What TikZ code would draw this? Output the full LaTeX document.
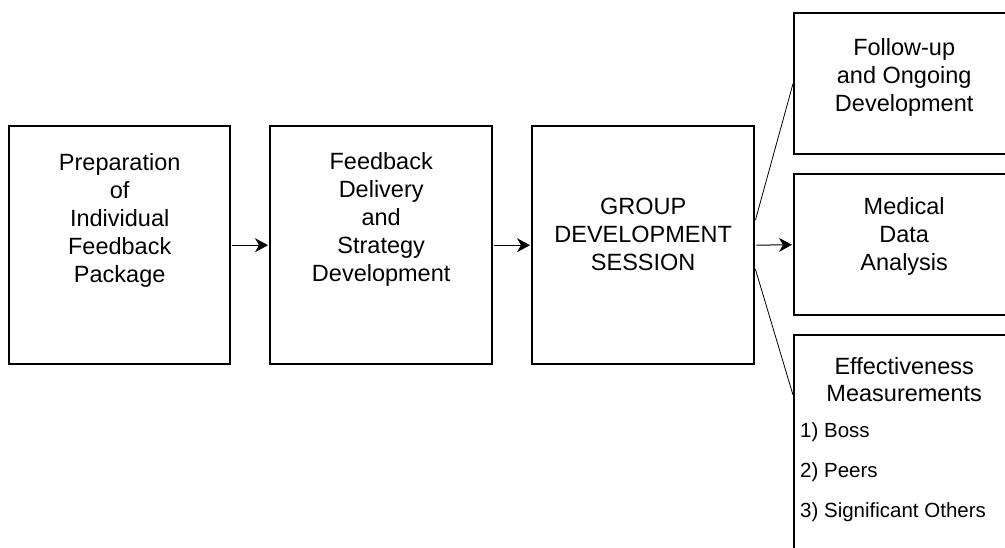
\documentclass[tikz,border=0pt]{standalone}
\usepackage{fontspec}
\setmainfont{Liberation Sans}
\usetikzlibrary{arrows.meta,calc}
\begin{document}
\begin{tikzpicture}[x=1pt,y=-1pt,
  box/.style={draw, line width=2.4pt, inner sep=0pt, anchor=north west},
  lbl/.style={align=center, font=\fontsize{23.5}{28}\selectfont, inner sep=0pt, anchor=north},
  lst/.style={align=left, font=\fontsize{20.5}{40}\selectfont, inner sep=0pt, anchor=north west},
  conn/.style={line width=1pt, shorten <=1pt, shorten >=1pt, -{Stealth[length=13pt,width=14pt,inset=4pt]}},
  fan/.style={line width=0.8pt}]
\useasboundingbox (0,0) rectangle (1005,548);
\clip (0,0) rectangle (1005,548);
% boxes
\node[box, minimum width=221pt, minimum height=238pt] (b1) at (8,125) {};
\node[box, minimum width=222pt, minimum height=238pt] (b2) at (269,125) {};
\node[box, minimum width=222pt, minimum height=238pt] (b3) at (531,125) {};
\node[box, minimum width=220pt, minimum height=141pt] (bA) at (793,12) {};
\node[box, minimum width=220pt, minimum height=141pt] (bB) at (793,173) {};
\node[box, minimum width=220pt, minimum height=250pt] (bC) at (793,334) {};
% labels
\node[lbl] (t1) at ($(b1.north)+(0,28)$) {Preparation\\of\\Individual\\Feedback\\Package};
\node[lbl] (t2) at ($(b2.north)+(0,27)$) {Feedback\\Delivery\\and\\Strategy\\Development};
\node[lbl] (t3) at ($(b3.north)+(0,73)$) {GROUP\\DEVELOPMENT\\SESSION};
\node[lbl] (tA) at ($(bA.north)+(0,26)$) {Follow-up\\and Ongoing\\Development};
\node[lbl] (tB) at ($(bB.north)+(0,24)$) {Medical\\Data\\Analysis};
\node[lbl, font=\fontsize{23.5}{27}\selectfont] (tC) at ($(bC.north)+(0,23)$) {Effectiveness\\Measurements};
\node[lst] (tL) at (800,422) {1) Boss\\2) Peers\\3) Significant Others};
% connectors
\draw[conn] (b1) -- (b2);
\draw[conn] (b2) -- (b3);
\draw[conn] (b3.east) -- (bB.west);
\coordinate (fa) at ($(b3.east)+(0,-25)$);
\coordinate (fc) at ($(b3.east)+(0,24)$);
\coordinate (cin) at ($(bC.north west)+(0,61)$);
\draw[fan] (fa) -- (bA.west);
\draw[fan] (fc) -- (cin);
\end{tikzpicture}
\end{document}
